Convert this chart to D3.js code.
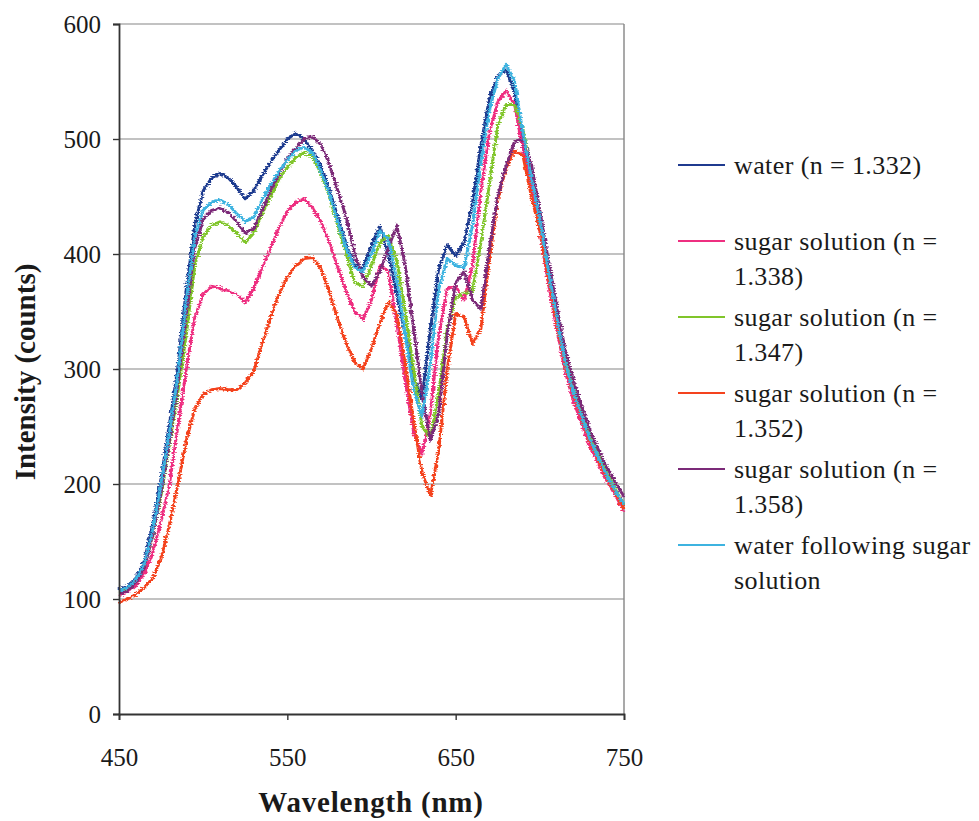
<!DOCTYPE html>
<html>
<head>
<meta charset="utf-8">
<script src="https://cdn.jsdelivr.net/npm/d3@7"></script>
<style>
  html, body { margin: 0; padding: 0; background: #fff; }
  svg { display: block; }
  text { font-family: "Liberation Serif", "Times New Roman", serif; fill: #1a1a1a; }
</style>
</head>
<body>
<svg id="chart" width="979" height="821"></svg>
<script>
// Emission spectra: wavelength grid (nm) and intensity counts per sample
const wavelengths = [450,455,460,465,470,475,480,485,490,495,500,505,510,515,520,525,530,535,540,545,
  550,555,560,565,570,575,580,585,590,595,600,605,610,615,620,625,630,635,640,645,
  650,655,660,665,670,675,680,685,690,695,700,705,710,715,720,725,730,735,740,745,750];

const water1332 = [108,111,118,133,165,205,252,302,370,425, 455,466,470,466,458, 448,455,468,480,490,
  500,505,500,490,476, 456,432,408,390,388, 408,424,400,365,330, 293,274,335,388,408,
  398,410,445,495,535, 555,560,540,495,463, 428,385,343,305,280, 258,238,222,207,194, 182];
const sugar1338 = [103,106,112,122,140,168,200,250,300,345, 365,372,370,368,365, 358,370,388,405,423,
  437,445,448,440,428, 410,388,368,350,343, 360,390,385,340,290, 245,226,262,330,370,
  372,360,390,455,505, 532,542,530,490,455, 420,375,335,298,272, 252,232,217,202,190, 176];
const sugar1347 = [105,108,115,128,155,190,235,280,330,390, 415,425,428,425,418, 410,418,435,450,465,
  475,484,488,485,470, 450,425,400,375,372, 390,410,416,395,350, 300,250,240,280,335,
  362,366,368,410,460, 512,530,530,508,470, 432,388,347,308,282, 260,240,224,209,195, 182];
const sugar1352 = [97,100,104,110,118,135,165,200,238,265, 278,282,283,282,282, 288,298,322,345,365,
  380,390,396,397,387, 367,343,322,306,300, 318,340,358,348,305, 255,210,190,230,300,
  348,345,322,335,395, 447,475,490,485,450, 420,380,340,303,278, 256,236,220,205,192, 178];
const sugar1358 = [104,107,114,127,155,193,238,288,348,405, 430,438,440,436,428, 418,422,438,455,470,
  483,492,500,502,495, 478,455,432,400,380, 372,385,405,425,390, 335,280,238,262,330,
  375,385,360,352,405, 450,477,498,500,478, 438,395,355,317,290, 267,246,229,214,201, 189];
const waterAfter = [107,110,117,130,160,200,245,295,360,415, 438,445,447,443,435, 428,432,447,460,472,
  482,490,493,488,472, 452,428,405,388,385, 400,420,413,378,330, 282,258,305,370,396,
  390,388,425,480,525, 552,565,550,505,466, 430,387,345,306,280, 258,238,222,207,194, 182];

const seriesNames = [
  ["water (n = 1.332)"],
  ["sugar solution (n =", "1.338)"],
  ["sugar solution (n =", "1.347)"],
  ["sugar solution (n =", "1.352)"],
  ["sugar solution (n =", "1.358)"],
  ["water following sugar", "solution"]
];
const seriesColors = ["#1f3a8f", "#ee2f80", "#80c52a", "#f4431e", "#7b2a78", "#3eb3e0"];
const seriesValues = [water1332, sugar1338, sugar1347, sugar1352, sugar1358, waterAfter];

const xTicks = [450, 550, 650, 750];
const yTicks = [0, 100, 200, 300, 400, 500, 600];

const svg = d3.select("#chart");
const plot = { left: 119, right: 624, top: 24, bottom: 714 };

const x = d3.scaleLinear().domain([450, 750]).range([plot.left, plot.right]);
const y = d3.scaleLinear().domain([0, 600]).range([plot.bottom, plot.top]);

// texture filter giving the traces their noisy, jagged look
const defs = svg.append("defs");
const f = defs.append("filter").attr("id", "rough")
  .attr("x", "-5%").attr("y", "-5%").attr("width", "110%").attr("height", "110%");
f.append("feTurbulence").attr("type", "fractalNoise").attr("baseFrequency", "0.35 0.9")
  .attr("numOctaves", 1).attr("seed", 4).attr("result", "noise");
f.append("feDisplacementMap").attr("in", "SourceGraphic").attr("in2", "noise")
  .attr("scale", 6).attr("xChannelSelector", "R").attr("yChannelSelector", "G");

// horizontal gridlines
svg.append("g")
  .selectAll("line")
  .data(yTicks.filter(v => v > 0))
  .join("line")
  .attr("x1", plot.left).attr("x2", plot.right)
  .attr("y1", d => y(d)).attr("y2", d => y(d))
  .attr("stroke", "#858585").attr("stroke-width", 1.2);

// right edge of plot area
svg.append("line")
  .attr("x1", plot.right).attr("x2", plot.right)
  .attr("y1", plot.top).attr("y2", plot.bottom)
  .attr("stroke", "#858585").attr("stroke-width", 1.4);

// spectra
const line = d3.line()
  .x((d, i) => x(wavelengths[i]))
  .y(d => y(d))
  .curve(d3.curveLinear);

svg.append("g").attr("filter", "url(#rough)")
  .selectAll("path")
  .data(seriesValues)
  .join("path")
  .attr("d", d => line(d))
  .attr("fill", "none")
  .attr("stroke", (d, i) => seriesColors[i])
  .attr("stroke-width", 2.9)
  .attr("stroke-linejoin", "round");

// axes
const yAxis = d3.axisLeft(y).tickValues(yTicks).tickSize(6).tickPadding(12).tickFormat(d3.format("d"));
const gy = svg.append("g").attr("transform", `translate(${plot.left},0)`).call(yAxis);
const xAxis = d3.axisBottom(x).tickValues(xTicks).tickSize(6).tickPadding(28).tickFormat(d3.format("d"));
const gx = svg.append("g").attr("transform", `translate(0,${plot.bottom})`).call(xAxis);

[gx, gy].forEach(g => {
  g.select(".domain").attr("stroke", "#333").attr("stroke-width", 1.8);
  g.selectAll(".tick line").attr("stroke", "#333").attr("stroke-width", 1.4);
  g.selectAll(".tick text")
    .attr("fill", "#1a1a1a")
    .style("font-family", "'Liberation Serif', 'Times New Roman', serif")
    .style("font-size", "25px");
});

// axis titles
svg.append("text")
  .attr("x", 371).attr("y", 812)
  .attr("text-anchor", "middle")
  .style("font-size", "29px").style("font-weight", "bold")
  .style("letter-spacing", "0.8px")
  .text("Wavelength (nm)");

svg.append("text")
  .attr("transform", "translate(35,372) rotate(-90)")
  .attr("text-anchor", "middle")
  .style("font-size", "29px").style("font-weight", "bold")
  .text("Intensity (counts)");

// legend
const legend = svg.append("g");
const legendTop = 165, legendStep = 76, lineGap = 35;
seriesNames.forEach((lines, i) => {
  const cy = legendTop + i * legendStep;
  legend.append("line")
    .attr("x1", 678).attr("x2", 725)
    .attr("y1", cy).attr("y2", cy)
    .attr("stroke", seriesColors[i]).attr("stroke-width", 2);
  lines.forEach((t, j) => {
    legend.append("text")
      .attr("x", 734).attr("y", cy + j * lineGap + 9)
      .style("font-size", "26px")
      .style("letter-spacing", "0.4px")
      .text(t);
  });
});
</script>
</body>
</html>
